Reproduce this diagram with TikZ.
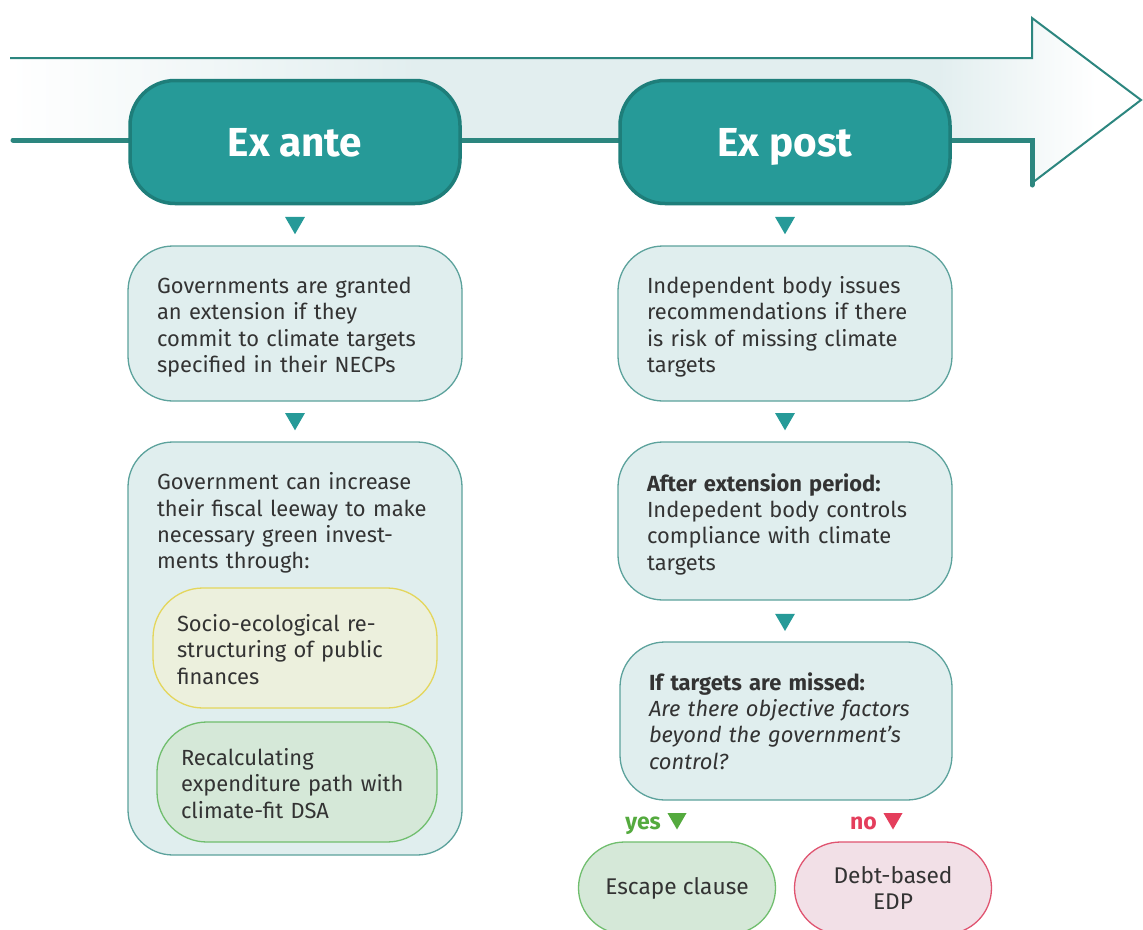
\documentclass[tikz,border=0pt]{standalone}
\usepackage{fontspec}
\setmainfont{Fira Sans}
\usetikzlibrary{shapes.geometric}
\definecolor{tealfill}{RGB}{38,154,152}
\definecolor{tealdark}{RGB}{30,126,122}
\definecolor{tealline}{RGB}{92,162,156}
\definecolor{arrowline}{RGB}{44,134,127}
\definecolor{arrowfill}{RGB}{226,238,239}
\definecolor{boxfill}{RGB}{224,238,238}
\definecolor{yelfill}{RGB}{236,240,221}
\definecolor{yelline}{RGB}{228,214,92}
\definecolor{grnfill}{RGB}{213,232,216}
\definecolor{grnline}{RGB}{112,190,110}
\definecolor{pinkfill}{RGB}{242,224,231}
\definecolor{pinkline}{RGB}{224,84,112}
\definecolor{textc}{RGB}{51,51,51}
\definecolor{yesc}{RGB}{84,170,62}
\definecolor{noc}{RGB}{228,62,92}
\pgfdeclarehorizontalshading{arrowfade}{100bp}{color(0bp)=(white); color(25bp)=(white); color(43bp)=(arrowfill); color(66bp)=(arrowfill); color(73bp)=(white); color(100bp)=(white)}
\newcommand{\bodyfont}{\fontsize{21.9}{26.4}\selectfont}
\newcommand{\fl}{\rule{0pt}{24pt}}
\newcommand{\fls}{\rule{0pt}{20pt}}
\tikzset{
  headbox/.style={draw=tealdark, line width=3.5pt, fill=tealfill, rounded corners=45pt,
    minimum width=330pt, minimum height=123pt, text=white, inner sep=0pt,
    text height=29pt, text depth=0pt,
    font=\fontsize{40.5}{44}\selectfont\bfseries},
  infobox/.style={draw=tealline, line width=1.3pt, fill=boxfill, rounded corners=45pt,
    minimum width=334pt, text width=276pt, inner xsep=29pt, inner ysep=0pt, align=left,
    text=textc, font=\bodyfont},
  subbox/.style={line width=1.3pt, rounded corners=50pt, minimum height=120pt,
    inner xsep=24pt, inner ysep=0pt, align=left, text=textc, font=\bodyfont},
  endbox/.style={line width=1.3pt, rounded corners=46pt, minimum width=197pt,
    minimum height=92pt, inner sep=0pt, align=center, text=textc,
    font=\fontsize{22.7}{26}\selectfont},
  tri/.style={regular polygon, regular polygon sides=3, shape border rotate=180,
    minimum size=23pt, inner sep=0pt, fill=tealfill},
  answer/.style={font=\fontsize{23}{26}\selectfont\bfseries, inner sep=0pt},
}
\begin{document}
\begin{tikzpicture}[x=1pt,y=-1pt]
\useasboundingbox (0,0) rectangle (1143,929);
\clip (0,0) rectangle (1143,929);
\fill[white] (0,0) rectangle (1143,929);
% background arrow
\shade[shading=arrowfade] (10,58) -- (1032,58) -- (1032,18) -- (1141,100) -- (1032,183) -- (1032,140) -- (10,140) -- cycle;
\draw[arrowline, line width=2pt] (10,58) -- (1032,58) -- (1032,18) -- (1141,100) -- (1032,183);
\draw[arrowline, line width=5pt, line cap=round] (13,140) -- (1032,140) -- (1032,185);
% headers
\node[headbox] (exante) at (295,142) {Ex ante};
\node[headbox] (expost) at (785,142) {Ex post};
% left column
\node[tri] (ta1) at (295,222.7) {};
\node[infobox, minimum height=155pt] (a1) at (295,323.5) {\fl Governments are granted\\ an extension if they\\ commit to climate targets\\ specified in their NECPs};
\node[tri] (ta2) at (295,418.8) {};
\node[draw=tealline, line width=1.3pt, fill=boxfill, rounded corners=45pt, minimum width=334pt, minimum height=413pt] (a2) at (295,648.5) {};
\node[text width=276pt, inner sep=0pt, align=left, text=textc, font=\bodyfont] (a2t) at (295,523) {Government can increase\\ their fiscal leeway to make\\ necessary green invest-\\ ments through:};
\node[subbox, draw=yelline, fill=yelfill, minimum width=284pt, text width=236pt] (a2y) at (295,648) {\fls Socio-ecological re-\\ structuring of public\\ finances};
\node[subbox, draw=grnline, fill=grnfill, minimum width=280pt, text width=232pt] (a2g) at (297,782) {\fls Recalculating\\ expenditure path with\\ climate-fit DSA};
% right column
\node[tri] (tb1) at (785,222.7) {};
\node[infobox, minimum height=155pt] (b1) at (785,323.5) {\fl Independent body issues\\ recommendations if there\\ is risk of missing climate\\ targets};
\node[tri] (tb2) at (785,418.8) {};
\node[infobox, minimum height=158pt] (b2) at (785,521) {\fl\textbf{After extension period:}\\ Indepedent body controls\\ compliance with climate\\ targets};
\node[tri] (tb3) at (785,619.5) {};
\node[infobox, minimum height=158pt, minimum width=332pt, text width=274pt, inner xsep=29pt] (b3) at (786,721) {\textbf{If targets are missed:}\\ \textit{Are there objective factors}\\ \textit{beyond the government’s}\\ \textit{control?}};
% answers
\node[tri, fill=yesc, minimum size=22pt] (tyes) at (677,818.5) {};
\node[answer, text=yesc, anchor=base east] (yes) at (661,829) {yes};
\node[tri, fill=noc, minimum size=22pt] (tno) at (893,818.5) {};
\node[answer, text=noc, anchor=base east] (no) at (877,829) {no};
\node[endbox, draw=grnline, fill=grnfill] (esc) at (677,888) {Escape clause};
\node[endbox, draw=pinkline, fill=pinkfill] (edp) at (893,888) {Debt-based\\ EDP};
\end{tikzpicture}
\end{document}
